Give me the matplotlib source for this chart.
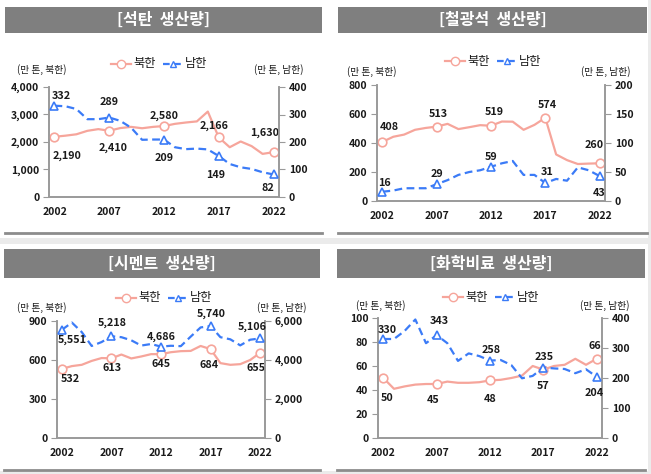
import matplotlib
matplotlib.use("Agg")
import matplotlib.pyplot as plt
from matplotlib.patches import Rectangle
from matplotlib.lines import Line2D
from matplotlib.ticker import FuncFormatter

plt.rcParams['font.family'] = ['Noto Sans CJK KR', 'DejaVu Sans']

years = list(range(2002, 2023))
year_ticks = [2002, 2007, 2012, 2017, 2022]

titles = ["[석탄  생산량]", "[철광석  생산량]", "[시멘트  생산량]", "[화학비료  생산량]"]

coal_north = [2190, 2230, 2280, 2406, 2468, 2410, 2506, 2550, 2500, 2550, 2580,
              2660, 2709, 2749, 3106, 2166, 1810, 2019, 1850, 1568, 1630]
coal_south = [332, 330, 320, 283, 283, 289, 277, 252, 208, 209, 209,
              181, 174, 176, 173, 149, 120, 108, 102, 90, 82]

iron_north = [408, 443, 458, 491, 504, 513, 532, 496, 509, 523, 519,
              548, 547, 491, 525, 574, 321, 282, 255, 258, 260]
iron_south = [16, 18, 22, 22, 22, 29, 36, 45, 50, 53, 59,
              65, 69, 45, 45, 31, 38, 35, 58, 53, 43]

cement_north = [532, 553, 563, 593, 615, 613, 642, 612, 627, 645, 645,
                660, 668, 670, 708, 684, 576, 563, 568, 600, 655]
cement_south = [5551, 5920, 5430, 4720, 4920, 5218, 5170, 5010, 4740, 4820, 4686,
                4730, 4710, 5200, 5670, 5740, 5170, 5060, 4750, 5040, 5106]

fert_north = [50, 41, 43, 44.5, 45, 45, 47, 46, 46, 46.5, 48,
              48.5, 50, 52, 60, 57, 60, 61, 66, 61, 66]
fert_south = [330, 330, 357, 395, 316, 343, 316, 257, 282, 273, 258,
              260, 243, 199, 207, 235, 232, 230, 216, 229, 204]

W, H = 651, 474
fig = plt.figure(figsize=(W / 100, H / 100), dpi=100)
fig.patch.set_facecolor('white')

RED = '#F6A59B'
BLUE = '#3B7BF7'
SPINE = '#9a9a9a'
TXT = '#1a1a1a'


def fx(x):
    return x / W


def fy(y):
    return 1 - y / H


# background separators
fig.add_artist(Rectangle((0, fy(244)), 1, (244 - 238) / H, transform=fig.transFigure,
                         facecolor='#ebebeb', edgecolor='none', zorder=0))
fig.add_artist(Rectangle((0, 0), 1, 3 / H, transform=fig.transFigure,
                         facecolor='#ebebeb', edgecolor='none', zorder=0))
fig.add_artist(Rectangle((fx(648), 0), 3 / W, 1, transform=fig.transFigure,
                         facecolor='#ebebeb', edgecolor='none', zorder=0))

panels = [
    dict(bar=(5, 322, 7, 33), rule=233, title=titles[0],
         ax=(49, 279, 87, 197), north=coal_north, south=coal_south,
         lmax=4000, lstep=1000, rmax=400, rstep=100,
         legend=(111, 64), lunit=(42, 70), runit=(279, 70),
         ln=[(13, -19), (4, -17), (0, 10), (-5, 12), (-9, 19)],
         ls=[(7, 10), (0, 16), (0, -18), (-3, -19), (-6, -14)]),
    dict(bar=(338, 647, 7, 33), rule=233, title=titles[1],
         ax=(377, 605, 85, 201), north=iron_north, south=iron_south,
         lmax=800, lstep=200, rmax=200, rstep=50,
         legend=(445, 61), lunit=(372, 72), runit=(606, 72),
         ln=[(7, 15), (2, 13), (3, 14), (2, 13), (-5, 18)],
         ls=[(2, 9), (0, 10), (0, 10), (2, 11), (0, -17)]),
    dict(bar=(4, 320, 249, 278), rule=470, title=titles[2],
         ax=(57, 265, 321, 438), north=cement_north, south=cement_south,
         lmax=900, lstep=300, rmax=6000, rstep=2000,
         legend=(116, 298), lunit=(42, 308), runit=(282, 308),
         ln=[(8, -10), (1, -10), (0, -10), (-1, -16), (-4, -15)],
         ls=[(10, -10), (1, 13), (0, 10), (1, 12), (-8, 12)]),
    dict(bar=(337, 645, 249, 278), rule=470, title=titles[3],
         ax=(378, 602, 318, 438), north=fert_north, south=fert_south,
         lmax=100, lstep=20, rmax=400, rstep=100,
         legend=(443, 297), lunit=(381, 306), runit=(605, 306),
         ln=[(4, -20), (-4, -16), (0, -19), (0, -16), (-2, 13)],
         ls=[(4, 9), (3, 14), (1, 11), (1, 10), (-3, -16)]),
]

mark_idx = [0, 5, 10, 15, 20]
fmt = FuncFormatter(lambda v, p: f"{int(v):,}")

for p in panels:
    x0, x1, y0, y1 = p['bar']
    fig.add_artist(Rectangle((fx(x0), fy(y1)), (x1 - x0) / W, (y1 - y0) / H,
                             transform=fig.transFigure, facecolor='#7f7f7f',
                             edgecolor='none', zorder=1))
    fig.text(fx((x0 + x1) / 2), fy((y0 + y1) / 2), p['title'], color='white',
             fontsize=11.5, fontweight='bold', ha='center', va='center')
    fig.add_artist(Line2D([fx(x0), fx(x1)], [fy(p['rule']), fy(p['rule'])],
                          transform=fig.transFigure, color='#8c8c8c', lw=2))

    l, r, t, b = p['ax']
    ax = fig.add_axes([fx(l), fy(b), (r - l) / W, (b - t) / H])
    ax2 = ax.twinx()
    xs = list(range(len(years)))
    ax.plot(xs, p['north'], color=RED, lw=1.6, marker='o', markersize=6.2,
            markerfacecolor='white', markeredgecolor=RED, markeredgewidth=1.2,
            markevery=mark_idx, zorder=3)
    ax2.plot(xs, p['south'], color=BLUE, lw=1.6, ls=(0, (3.5, 2)), marker='^',
             markersize=6.2, markerfacecolor='white', markeredgecolor=BLUE,
             markeredgewidth=1.2, markevery=mark_idx, zorder=3)
    ax.set_xlim(-0.5, len(years) - 0.5)
    ax.set_ylim(0, p['lmax'])
    ax2.set_ylim(0, p['rmax'])
    ax.set_yticks(range(0, p['lmax'] + 1, p['lstep']))
    ax2.set_yticks(range(0, p['rmax'] + 1, p['rstep']))
    ax.yaxis.set_major_formatter(fmt)
    ax2.yaxis.set_major_formatter(fmt)
    ax.set_xticks([years.index(y) for y in year_ticks])
    ax.set_xticklabels([str(y) for y in year_ticks])
    for a in (ax, ax2):
        a.set_facecolor('none')
        for s in a.spines.values():
            s.set_color(SPINE)
            s.set_linewidth(1.2)
        a.spines['top'].set_visible(False)
        a.tick_params(axis='y', length=4, color=SPINE, labelsize=7.5,
                      labelcolor=TXT, pad=3)
        for lab in a.get_yticklabels():
            lab.set_fontweight('bold')
    ax.tick_params(axis='x', length=0, labelsize=7.5, labelcolor=TXT, pad=7)
    for lab in ax.get_xticklabels():
        lab.set_fontweight('bold')

    for k, i in enumerate(mark_idx):
        dx, dy = p['ln'][k]
        ax.annotate(f"{p['north'][i]:,}", (xs[i], p['north'][i]),
                    xytext=(dx, dy), textcoords='offset pixels', ha='center',
                    va='center', fontsize=7.8, fontweight='bold', color=TXT,
                    zorder=5)
        dx, dy = p['ls'][k]
        ax2.annotate(f"{p['south'][i]:,}", (xs[i], p['south'][i]),
                     xytext=(dx, dy), textcoords='offset pixels', ha='center',
                     va='center', fontsize=7.8, fontweight='bold', color=TXT,
                     zorder=5)

    # units
    fig.text(fx(p['lunit'][0]), fy(p['lunit'][1]), "(만 톤, 북한)", fontsize=7,
             color=TXT, ha='center', va='center')
    fig.text(fx(p['runit'][0]), fy(p['runit'][1]), "(만 톤, 남한)", fontsize=7,
             color=TXT, ha='center', va='center')

    # legend
    lx, ly = p['legend']
    fig.add_artist(Line2D([fx(lx), fx(lx + 20)], [fy(ly), fy(ly)],
                          transform=fig.transFigure, color=RED, lw=1.6))
    fig.add_artist(Line2D([fx(lx + 10)], [fy(ly)], transform=fig.transFigure,
                          color=RED, marker='o', markersize=6,
                          markerfacecolor='white', markeredgecolor=RED, lw=0))
    fig.text(fx(lx + 22), fy(ly), "북한", fontsize=8.8, color=TXT,
             ha='left', va='center')
    fig.add_artist(Line2D([fx(lx + 52), fx(lx + 72)], [fy(ly), fy(ly)],
                          transform=fig.transFigure, color=BLUE, lw=1.6,
                          ls=(0, (3, 2))))
    fig.add_artist(Line2D([fx(lx + 62)], [fy(ly)], transform=fig.transFigure,
                          color=BLUE, marker='^', markersize=5,
                          markerfacecolor='white', markeredgecolor=BLUE, lw=0))
    fig.text(fx(lx + 74), fy(ly), "남한", fontsize=8.8, color=TXT,
             ha='left', va='center')

fig.savefig("out.png", dpi=100, facecolor='white')
